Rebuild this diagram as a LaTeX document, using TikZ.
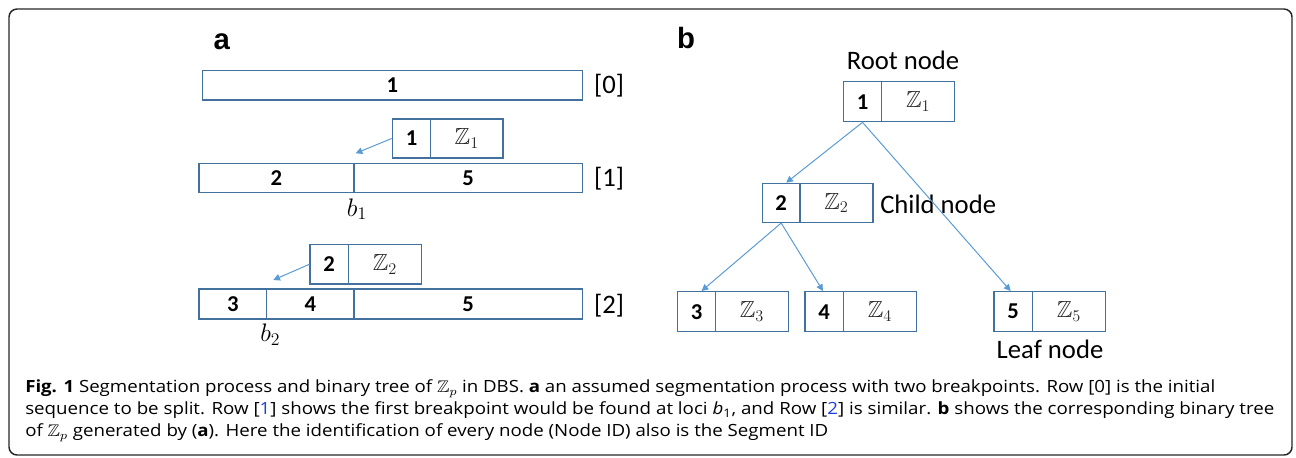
\RequirePackage{fix-cm}
\documentclass[tikz,border=0pt]{standalone}
\usepackage{fontspec}
\usepackage{amssymb}
\usepackage{graphicx}
\usetikzlibrary{arrows.meta}
\setmainfont{Carlito}
\newfontfamily\capfont{Open Sans}
\newfontfamily\panelfont{Liberation Sans}
\definecolor{boxblue}{HTML}{41719C}
\definecolor{arrblue}{HTML}{5B9BD5}
\definecolor{linkblue}{HTML}{1F3FE0}
\tikzset{
  cellbox/.style={draw=boxblue, line width=1pt, inner sep=0pt, anchor=north west,
    font=\fontsize{17}{19}\selectfont\bfseries},
  wh/.style 2 args={minimum width=#1*0.75pt, minimum height=#2*0.75pt},
  zlab/.style={font=\fontsize{17.5}{19}\selectfont, text=black!85},
  link/.style={draw=arrblue, line width=0.75pt, -{Triangle[length=5pt,width=5pt]}},
  lbl/.style={font=\fontsize{20}{23}\selectfont, inner sep=0pt},
  mlbl/.style={font=\fontsize{19}{22}\selectfont, inner sep=0pt, anchor=base west},
  captionline/.style={anchor=base west, inner sep=0pt, font=\capfont\fontsize{12.6}{15}\selectfont},
  panel/.style={font=\panelfont\fontsize{22}{26}\selectfont\bfseries, inner sep=0pt, anchor=base},
}
\begin{document}
\begin{tikzpicture}[x=0.75pt,y=-0.75pt]
\useasboundingbox (0,0) rectangle (1296,457);
\draw[line width=1.1pt, draw=black!85, rounded corners=6pt] (9,9) rectangle (1292,455);

% panel a
\node[panel] (pa) at (221.7,49.3) {a};
\node[cellbox, wh={380}{29.3}] (r0) at (201.7,70) {1};
\node[lbl, anchor=base] (lab0) at (609,93.3) {[0]};

\node[cellbox, wh={38.3}{39}] (a1n) at (391.7,118.3) {1};
\node[cellbox, zlab, wh={72.3}{39}] (a1z) at (430,118.3) {$\mathbb{Z}_1$};
\node[cellbox, wh={155}{29}] (r1a) at (198.3,162.7) {2};
\node[cellbox, wh={228.4}{29}] (r1b) at (353.3,162.7) {5};
\node[lbl, anchor=base] (lab1) at (609,186.7) {[1]};
\coordinate (t1) at (355.7,153.3);
\draw[link] (a1n.west) -- (t1);
\node[mlbl] (b1) at (346.7,216) {$b_1$};

\node[cellbox, wh={38.4}{39.3}] (a2n) at (309.3,244) {2};
\node[cellbox, zlab, wh={73}{39.3}] (a2z) at (347.7,244) {$\mathbb{Z}_2$};
\node[cellbox, wh={67.7}{30}] (r2a) at (198.3,288.3) {3};
\node[cellbox, wh={87.3}{30}] (r2b) at (266,288.3) {4};
\node[cellbox, wh={228.4}{30}] (r2c) at (353.3,288.3) {5};
\node[lbl, anchor=base] (lab2) at (609,313) {[2]};
\coordinate (t2) at (273.3,280);
\draw[link] (a2n.west) -- (t2);
\node[mlbl] (b2) at (260,341.7) {$b_2$};

% panel b
\node[panel] (pb) at (686,48.3) {b};
\node[lbl, anchor=base] (rootlab) at (903,69.3) {Root node};
\node[cellbox, wh={38.3}{40}] (rn) at (842.7,81) {1};
\node[cellbox, zlab, wh={73}{40}] (rz) at (881,81) {$\mathbb{Z}_1$};

\node[cellbox, wh={37.6}{39}] (cn) at (761.7,182.7) {2};
\node[cellbox, zlab, wh={73}{39}] (cz) at (799.3,182.7) {$\mathbb{Z}_2$};
\node[lbl, anchor=base west] (childlab) at (880,213.3) {Child node};

\node[cellbox, wh={38.3}{40}] (l3n) at (676.7,291) {3};
\node[cellbox, zlab, wh={72.7}{40}] (l3z) at (715,291) {$\mathbb{Z}_3$};
\node[cellbox, wh={38.4}{40}] (l4n) at (804.3,291) {4};
\node[cellbox, zlab, wh={73}{40}] (l4z) at (842.7,291) {$\mathbb{Z}_4$};
\node[cellbox, wh={38.4}{40}] (l5n) at (993.3,291) {5};
\node[cellbox, zlab, wh={73.3}{40}] (l5z) at (1031.7,291) {$\mathbb{Z}_5$};
\node[lbl, anchor=base] (leaflab) at (1050,358.3) {Leaf node};

\draw[link] (rn.south) -- ([xshift=3.8pt]cn.north);
\draw[link] (rn.south) -- ([xshift=-1.9pt]l5n.north);
\draw[link] (cn.south) -- ([xshift=3.8pt]l3n.north);
\draw[link] (cn.south) -- ([xshift=-0.9pt]l4n.north);

% caption
\node[captionline] (cap1) at (25,392.5) {\resizebox{892.5pt}{\height}{\textbf{Fig. 1} Segmentation process and binary tree of $\mathbb{Z}_p$ in DBS. \textbf{a} an assumed segmentation process with two breakpoints. Row [0] is the initial}};
\node[captionline] (cap2) at (25,414.5) {\resizebox{936.75pt}{\height}{sequence to be split. Row [{\color{linkblue}1}] shows the first breakpoint would be found at loci \textit{b}\textsubscript{1}, and Row [{\color{linkblue}2}] is similar. \textbf{b} shows the corresponding binary tree}};
\node[captionline] (cap3) at (25,436.5) {\resizebox{602.25pt}{\height}{of $\mathbb{Z}_p$ generated by (\textbf{a}). Here the identification of every node (Node ID) also is the Segment ID}};
\end{tikzpicture}
\end{document}
